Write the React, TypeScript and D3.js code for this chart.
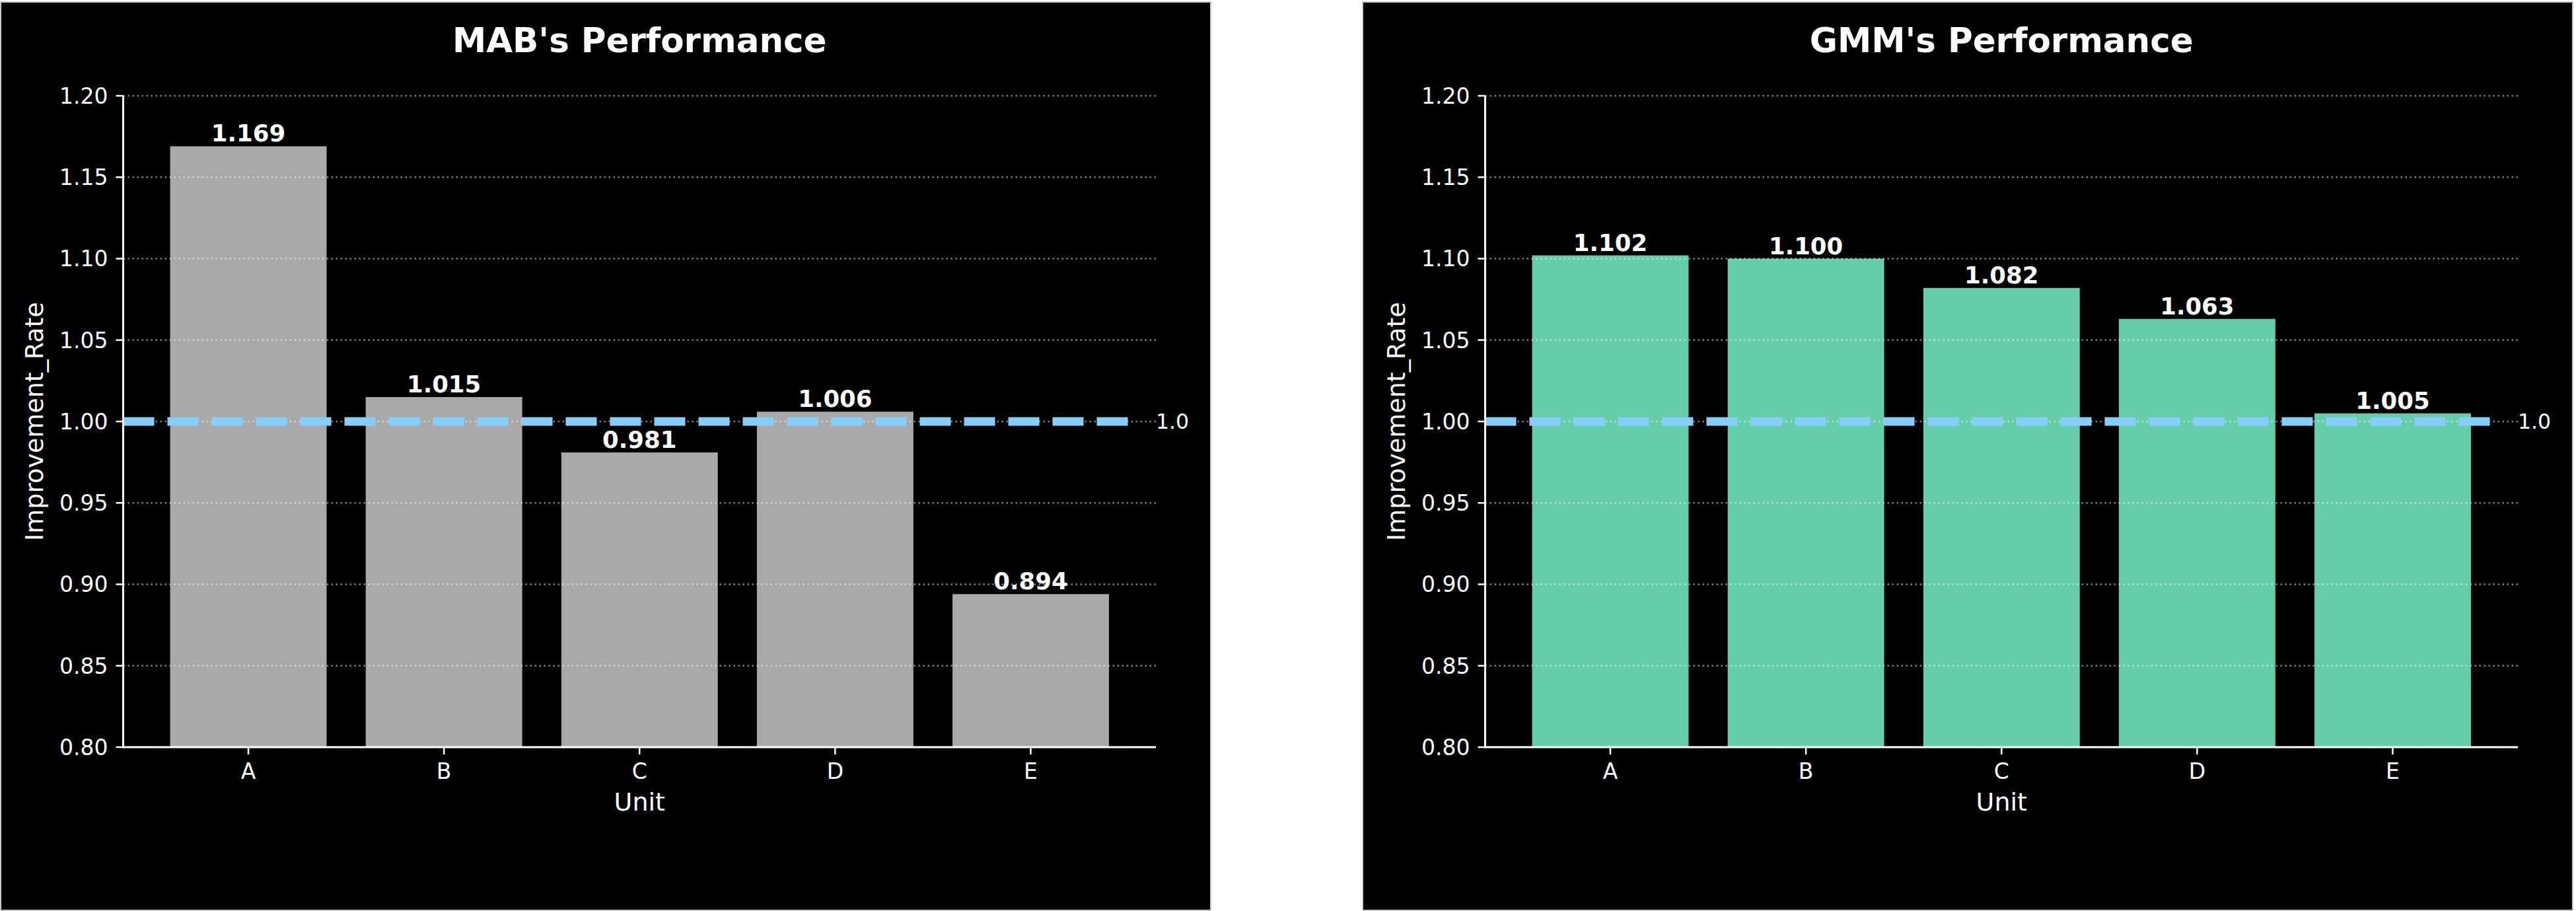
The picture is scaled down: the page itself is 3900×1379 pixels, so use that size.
import React from "react";
import * as d3 from "d3";

const units = ["A", "B", "C", "D", "E"];
const mabValues = [1.169, 1.015, 0.981, 1.006, 0.894];
const gmmValues = [1.102, 1.1, 1.082, 1.063, 1.005];
const yTicks = [0.8, 0.85, 0.9, 0.95, 1.0, 1.05, 1.1, 1.15, 1.2];
const baselineValue = 1.0;
const baselineLabel = "1.0";

const FONT = "'DejaVu Sans', sans-serif";
const PANEL_W = 1834;
const PANEL_H = 1375;
const AX_L = 186.5;
const AX_R = 1750;
const AX_T = 145;
const AX_B = 1131;
const TICK_FS = 33;

function Panel({ x0, title, values, color }: { x0: number; title: string; values: number[]; color: string }) {
  const x = d3.scaleBand<string>().domain(units).range([AX_L, AX_R]).paddingInner(0.2).paddingOuter(0.24);
  const y = d3.scaleLinear().domain([0.8, 1.2]).range([AX_B, AX_T]);
  const cx = (AX_L + AX_R) / 2;
  const cy = (AX_T + AX_B) / 2;
  return (
    <g transform={`translate(${x0},0)`}>
      <rect x={1} y={3} width={PANEL_W - 2} height={PANEL_H} fill="#000" stroke="#c8c8c8" strokeWidth={2} />
      <text x={cx} y={79} textAnchor="middle" fill="#fff" fontFamily={FONT} fontWeight="bold" fontSize={51.5}>
        {title}
      </text>
      {values.map((v, i) => (
        <rect key={"b" + i} x={x(units[i])!} width={x.bandwidth()} y={y(v)} height={y(0.8) - y(v)} fill={color} />
      ))}
      {yTicks.map((t) => (
        <line key={"g" + t} x1={AX_L} x2={AX_R} y1={y(t)} y2={y(t)} stroke="#fff" strokeOpacity={0.5} strokeWidth={2.5} strokeDasharray="2.5,4.5" />
      ))}
      <line
        x1={AX_L}
        x2={1719}
        y1={y(baselineValue)}
        y2={y(baselineValue)}
        stroke="#87CEFA"
        strokeWidth={13}
        strokeDasharray="47,20"
      />
      <text x={AX_R} y={y(baselineValue)} dy="0.35em" fill="#fff" fontFamily={FONT} fontSize={31.5}>
        {baselineLabel}
      </text>
      {values.map((v, i) => (
        <text
          key={"l" + i}
          x={x(units[i])! + x.bandwidth() / 2}
          y={y(v) - 7}
          textAnchor="middle"
          fill="#fff"
          fontFamily={FONT}
          fontWeight="bold"
          fontSize={35.5}
        >
          {v.toFixed(3)}
        </text>
      ))}
      <line x1={AX_L} x2={AX_L} y1={AX_T} y2={AX_B} stroke="#fff" strokeWidth={3} />
      <line x1={AX_L - 1.5} x2={AX_R} y1={AX_B} y2={AX_B} stroke="#fff" strokeWidth={3} />
      {yTicks.map((t) => (
        <g key={"yt" + t}>
          <line x1={AX_L - 11} x2={AX_L} y1={y(t)} y2={y(t)} stroke="#fff" strokeWidth={2.5} />
          <text x={AX_L - 23} y={y(t)} dy="0.36em" textAnchor="end" fill="#fff" fontFamily={FONT} fontSize={TICK_FS}>
            {t.toFixed(2)}
          </text>
        </g>
      ))}
      {units.map((u) => {
        const ux = x(u)! + x.bandwidth() / 2;
        return (
          <g key={"xt" + u}>
            <line x1={ux} x2={ux} y1={AX_B} y2={AX_B + 11} stroke="#fff" strokeWidth={2.5} />
            <text x={ux} y={1179} textAnchor="middle" fill="#fff" fontFamily={FONT} fontSize={TICK_FS}>
              {u}
            </text>
          </g>
        );
      })}
      <text x={cx} y={1227} textAnchor="middle" fill="#fff" fontFamily={FONT} fontSize={38}>
        Unit
      </text>
      <text
        transform={`translate(65,${cy}) rotate(-90)`}
        textAnchor="middle"
        fill="#fff"
        fontFamily={FONT}
        fontSize={38}
      >
        Improvement_Rate
      </text>
    </g>
  );
}

export default function App() {
  return (
    <svg
      width={3900}
      height={1379}
      style={{ position: "absolute", left: 0, top: 0, background: "#fff" }}
    >
      <Panel x0={0} title="MAB's Performance" values={mabValues} color="#A9A9A9" />
      <Panel x0={2062} title="GMM's Performance" values={gmmValues} color="#66CDAA" />
    </svg>
  );
}
